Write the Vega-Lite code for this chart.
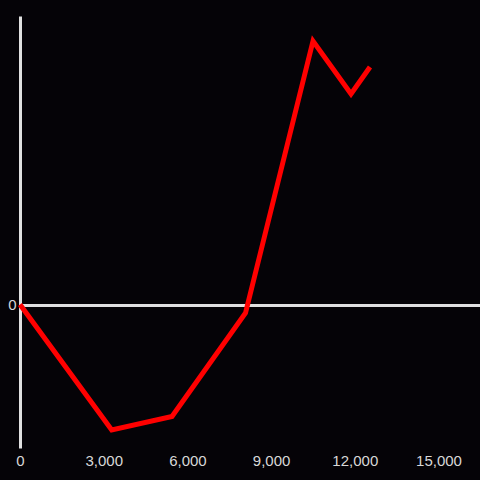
{
  "$schema": "https://vega.github.io/schema/vega-lite/v6.json",
  "autosize": {"type": "none"},
  "padding": {"left": 20, "top": 16, "right": 0, "bottom": 32},
  "width": 460,
  "height": 432,
  "background": "#050307",
  "config": {"view": {"stroke": null}},
  "data": {"values": [
    {"x": 0, "y": 0},
    {"x": 3287, "y": -125.5},
    {"x": 5448, "y": -112},
    {"x": 8082, "y": -8.5},
    {"x": 10502, "y": 263.5},
    {"x": 11864, "y": 210.5},
    {"x": 12545, "y": 237.5}
  ]},
  "mark": {"type": "line", "color": "#ff0000", "strokeWidth": 5, "strokeJoin": "miter", "strokeCap": "butt"},
  "encoding": {
    "x": {
      "field": "x", "type": "quantitative",
      "scale": {"domain": [0, 16487], "nice": false, "zero": false},
      "axis": {
        "title": null, "domain": false, "ticks": false, "grid": false,
        "values": [0, 3000, 6000, 9000, 12000, 15000], "format": ",.0f",
        "labelColor": "#d8d8d8", "labelFont": "Liberation Sans", "labelFontSize": 15,
        "labelPadding": 5, "labelFlush": false
      }
    },
    "y": {
      "field": "y", "type": "quantitative",
      "scale": {"domain": [-143.5, 288.5], "nice": false, "zero": false},
      "axis": {
        "title": null, "domain": true, "domainColor": "#e0e0e0", "domainWidth": 3,
        "ticks": false, "values": [0], "grid": true, "gridColor": "#e0e0e0", "gridWidth": 3,
        "format": ",.0f",
        "labelColor": "#d8d8d8", "labelFont": "Liberation Sans", "labelFontSize": 15,
        "labelPadding": 4
      }
    }
  }
}
